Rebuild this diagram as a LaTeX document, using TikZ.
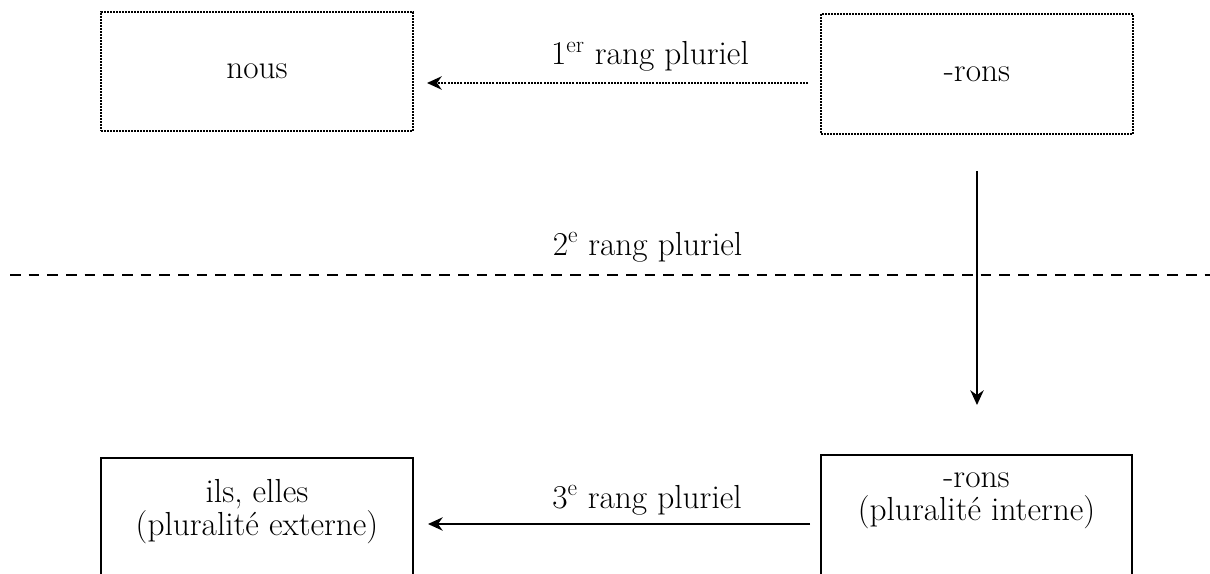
\documentclass[tikz,border=0pt]{standalone}
\usetikzlibrary{arrows.meta}
\begin{document}
\begin{tikzpicture}[x=0.75pt,y=-0.75pt,
  every node/.style={font=\fontsize{25}{24.75}\selectfont, inner sep=0pt, outer sep=0pt},
  dotbox/.style={draw, line width=1.6pt, dash pattern=on 1.5pt off 0.75pt},
  solidbox/.style={draw, line width=1.3pt},
  tip/.style={-{Stealth[length=11pt,width=10pt,inset=3.5pt]}},
  dotarrow/.style={tip, line width=1.6pt, dash pattern=on 1.5pt off 0.9pt},
  solidarrow/.style={tip, line width=1.3pt},
  dashline/.style={line width=1.4pt, dash pattern=on 8pt off 6pt},
  lab/.style={anchor=base}]
\path[use as bounding box, clip] (0,0) rectangle (1210,574);

% top boxes
\node[dotbox, minimum width=234pt, minimum height=89.25pt] (nousbox) at (257,71.5) {nous};
\node[dotbox, minimum width=234pt, minimum height=90pt] (ronsbox) at (977,74) {-rons};

% bottom boxes (cut by the lower edge)
\node[solidbox, anchor=north west, minimum width=234pt, minimum height=150pt] (ilsbox) at (101,458) {};
\node[solidbox, anchor=north west, minimum width=233.25pt, minimum height=150pt] (ronsbot) at (821,455) {};
\node[align=center, anchor=base] (ilstext) at (257,535) {ils, elles\\(pluralité externe)};
\node[align=center, anchor=base] (ronstext) at (976.5,520) {-rons\\(pluralité interne)};

% dashed separator
\coordinate (dl) at (10,275);
\coordinate (dr) at (1212,275);
\draw[dashline] (dl) -- (dr);

% arrows
\coordinate (y1) at (0,83);
\coordinate (y3) at (0,524);
\draw[dotarrow, shorten <=9.75pt, shorten >=10.5pt] (ronsbox.west |- y1) -- (nousbox.east |- y1);
\draw[solidarrow, shorten <=27.75pt, shorten >=37.5pt] (ronsbox.south) -- (ronsbox.south |- ronsbot.north);
\draw[solidarrow, shorten <=8.25pt, shorten >=11.25pt] (ronsbot.west |- y3) -- (ilsbox.east |- y3);

% labels
\node[lab] (l1) at (650,65) {1\textsuperscript{er} rang pluriel};
\node[lab] (l2) at (647.5,255) {2\textsuperscript{e} rang pluriel};
\node[lab] (l3) at (647,508) {3\textsuperscript{e} rang pluriel};
\end{tikzpicture}
\end{document}
